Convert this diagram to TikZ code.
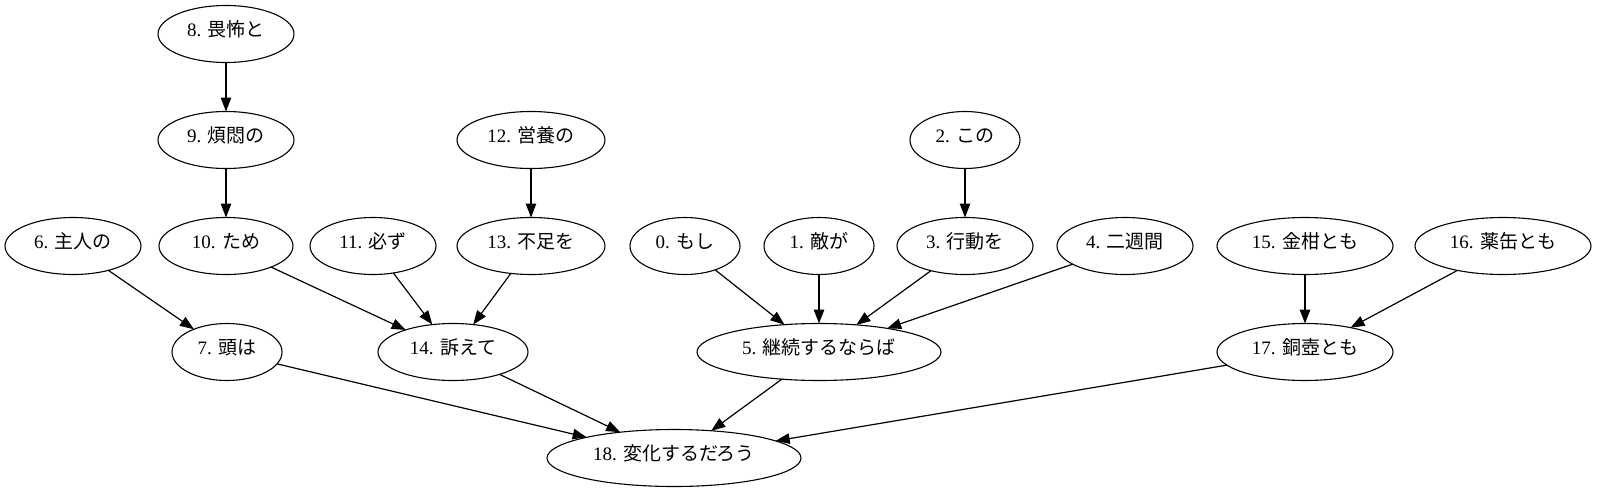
\documentclass[tikz,border=0pt]{standalone}
\usepackage{fontspec}
\setmainfont{Liberation Serif}
\newfontfamily\jp{Noto Sans CJK JP}
\usetikzlibrary{shapes.geometric,arrows.meta}
\newcommand{\lbl}[2]{\raisebox{-2.7pt}[0pt][0pt]{#1 {\jp #2}}}
\begin{document}
\begin{tikzpicture}[x=1pt,y={(0pt,-1pt)},
  el/.style={draw, ellipse, line width=1.1pt, inner sep=0pt, outer sep=0pt,
    minimum height=57pt, font=\fontsize{19pt}{22pt}\selectfont},
  ar/.style={line width=1.2pt, -{Triangle[length=14pt,width=10.5pt]}}]
\useasboundingbox (0,0) rectangle (1598,493);
\node[el, minimum width=136pt] (n8) at (226,34) {\lbl{8.}{畏怖と}};
\node[el, minimum width=136pt] (n9) at (226,140) {\lbl{9.}{煩悶の}};
\node[el, minimum width=148pt] (n12) at (531,140) {\lbl{12.}{営養の}};
\node[el, minimum width=110pt] (n2) at (965,140) {\lbl{2.}{この}};
\node[el, minimum width=136pt] (n6) at (73,246) {\lbl{6.}{主人の}};
\node[el, minimum width=134pt] (n10) at (226,246) {\lbl{10.}{ため}};
\node[el, minimum width=126pt] (n11) at (373,246) {\lbl{11.}{必ず}};
\node[el, minimum width=148pt] (n13) at (531,246) {\lbl{13.}{不足を}};
\node[el, minimum width=110pt] (n0) at (685,246) {\lbl{0.}{もし}};
\node[el, minimum width=110pt] (n1) at (819,246) {\lbl{1.}{敵が}};
\node[el, minimum width=136pt] (n3) at (965,246) {\lbl{3.}{行動を}};
\node[el, minimum width=136pt] (n4) at (1125,246) {\lbl{4.}{二週間}};
\node[el, minimum width=176pt] (n15) at (1305,246) {\lbl{15.}{金柑とも}};
\node[el, minimum width=176pt] (n16) at (1503,246) {\lbl{16.}{薬缶とも}};
\node[el, minimum width=110pt] (n7) at (227,352) {\lbl{7.}{頭は}};
\node[el, minimum width=150pt] (n14) at (453,352) {\lbl{14.}{訴えて}};
\node[el, minimum width=244pt] (n5) at (819,352) {\lbl{5.}{継続するならば}};
\node[el, minimum width=176pt] (n17) at (1305,352) {\lbl{17.}{銅壺とも}};
\node[el, minimum width=254pt] (n18) at (674,458) {\lbl{18.}{変化するだろう}};
\draw[ar] (n8) -- (n9);
\draw[ar] (n9) -- (n10);
\draw[ar] (n12) -- (n13);
\draw[ar] (n2) -- (n3);
\draw[ar] (n6) -- (n7);
\draw[ar] (n10) -- (n14);
\draw[ar] (n11) -- (n14);
\draw[ar] (n13) -- (n14);
\draw[ar] (n0) -- (n5);
\draw[ar] (n1) -- (n5);
\draw[ar] (n3) -- (n5);
\draw[ar] (n4) -- (n5);
\draw[ar] (n15) -- (n17);
\draw[ar] (n16) -- (n17);
\draw[ar] (n7) -- (n18);
\draw[ar] (n14) -- (n18);
\draw[ar] (n5) -- (n18);
\draw[ar] (n17) -- (n18);
\end{tikzpicture}
\end{document}
